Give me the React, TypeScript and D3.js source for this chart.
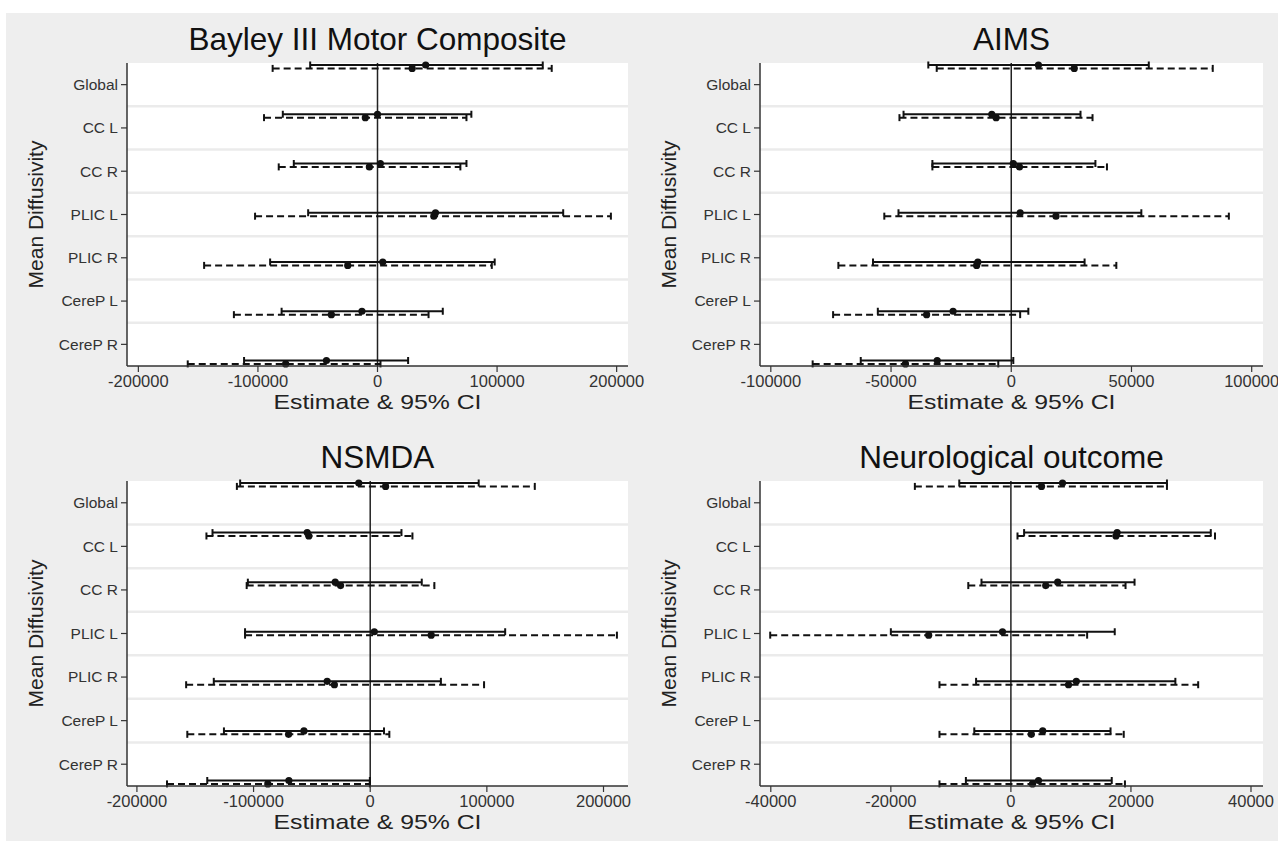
import * as d3 from "d3";

const regions = ["Global", "CC L", "CC R", "PLIC L", "PLIC R", "CereP L", "CereP R"];

// rows: [estimate, lower 95% CI, upper 95% CI], one per region
const bayleySolid = [
  [40300, -56300, 138200],
  [0, -79200, 78500],
  [2400, -70000, 74400],
  [48500, -58000, 155300],
  [4400, -89800, 98000],
  [-13000, -80200, 54600],
  [-42700, -111600, 25600],
];
const bayleyDashed = [
  [29000, -87700, 145700],
  [-10200, -94900, 74400],
  [-6800, -82600, 69300],
  [47100, -102400, 195200],
  [-24900, -145000, 95600],
  [-38600, -120100, 42700],
  [-76800, -158700, 2500],
];

const aimsSolid = [
  [11300, -34500, 57200],
  [-8100, -44800, 28800],
  [850, -32800, 35000],
  [3700, -46900, 54100],
  [-13900, -57500, 30500],
  [-24200, -55500, 7100],
  [-30800, -62600, 850],
];
const aimsDashed = [
  [26200, -31000, 83800],
  [-6300, -46500, 33800],
  [3400, -32800, 39800],
  [18600, -52800, 90500],
  [-14400, -71900, 43700],
  [-35200, -74100, 3700],
  [-44000, -82600, -5400],
];

const nsmdaSolid = [
  [-9800, -111500, 93000],
  [-54000, -135200, 26800],
  [-30000, -104900, 44200],
  [3500, -107300, 115700],
  [-36900, -134100, 60600],
  [-56800, -125400, 11800],
  [-69700, -139700, -300],
];
const nsmdaDashed = [
  [13200, -114300, 141100],
  [-52600, -140400, 36200],
  [-25400, -105900, 55000],
  [52300, -107300, 211500],
  [-30700, -157800, 97600],
  [-70000, -156800, 16400],
  [-87800, -174200, -300],
];

const neuroSolid = [
  [8600, -8600, 26000],
  [17700, 2200, 33300],
  [7800, -4900, 20600],
  [-1400, -20000, 17300],
  [10900, -5800, 27400],
  [5300, -6100, 16600],
  [4600, -7500, 16800],
];
const neuroDashed = [
  [5100, -16000, 26000],
  [17500, 1100, 34000],
  [5800, -7100, 19100],
  [-13700, -40100, 12700],
  [9600, -11900, 31200],
  [3400, -11900, 18800],
  [3600, -11900, 19000],
];

const titles = ["Bayley III Motor Composite", "AIMS", "NSMDA", "Neurological outcome"];
const xDomains = [
  [-209500, 209500],
  [-104500, 104700],
  [-208500, 221000],
  [-41800, 42000],
];
const xTickValues = [
  [-200000, -100000, 0, 100000, 200000],
  [-100000, -50000, 0, 50000, 100000],
  [-200000, -100000, 0, 100000, 200000],
  [-40000, -20000, 0, 20000, 40000],
];

const W = 1278;
const H = 841;
const FONT = "'Liberation Sans', Arial, sans-serif";

function Bars({ rows, x, y, dy, dashed }) {
  return (
    <g>
      {rows.map((r, i) => {
        const yy = y(regions[i]) + dy;
        return (
          <g key={i}>
            <line
              x1={x(r[1])}
              x2={x(r[2])}
              y1={yy}
              y2={yy}
              stroke="#111"
              strokeWidth={2}
              strokeDasharray={dashed ? "7,4" : null}
            />
            <line x1={x(r[1])} x2={x(r[1])} y1={yy - 3.5} y2={yy + 3.5} stroke="#111" strokeWidth={2} />
            <line x1={x(r[2])} x2={x(r[2])} y1={yy - 3.5} y2={yy + 3.5} stroke="#111" strokeWidth={2} />
            <circle cx={x(r[0])} cy={yy} r={3.6} fill="#111" />
          </g>
        );
      })}
    </g>
  );
}

function Panel({ title, solid, dashed, domain, ticks, left, top, width, height }) {
  const right = left + width;
  const bottom = top + height;
  const x = d3.scaleLinear().domain(domain).range([left, right]);
  const band = d3.scaleBand().domain(regions).range([top, bottom]);
  const barY = d3.scalePoint().domain(regions).range([top + 2, bottom - 5.5]);
  const cx = (left + right) / 2;

  return (
    <g>
      <rect x={left} y={top} width={width} height={height} fill="#fff" />
      {regions.slice(1).map((r) => (
        <line key={r} x1={left} x2={right} y1={band(r)} y2={band(r)} stroke="#ebebeb" strokeWidth={2.5} />
      ))}
      <line x1={x(0)} x2={x(0)} y1={top} y2={bottom} stroke="#222" strokeWidth={1.5} />
      <Bars rows={dashed} x={x} y={barY} dy={3.4} dashed />
      <Bars rows={solid} x={x} y={barY} dy={0} dashed={false} />

      {/* y axis */}
      <line x1={left} x2={left} y1={top} y2={bottom} stroke="#333" strokeWidth={1.5} />
      {regions.map((r) => {
        const yy = band(r) + band.bandwidth() / 2;
        return (
          <g key={r}>
            <line x1={left - 6} x2={left} y1={yy} y2={yy} stroke="#333" strokeWidth={1.2} />
            <text x={left - 9} y={yy} dy="0.35em" textAnchor="end" fontSize={15.5} fill="#333">
              {r}
            </text>
          </g>
        );
      })}

      {/* x axis */}
      <line x1={left} x2={right} y1={bottom} y2={bottom} stroke="#333" strokeWidth={1.5} />
      {ticks.map((t) => (
        <g key={t}>
          <line x1={x(t)} x2={x(t)} y1={bottom} y2={bottom + 6} stroke="#333" strokeWidth={1.2} />
          <text x={x(t)} y={bottom + 21} textAnchor="middle" fontSize={16.5} fill="#333">
            {t}
          </text>
        </g>
      ))}

      <text
        x={cx - 104}
        y={bottom + 43}
        fontSize={21}
        fill="#222"
        textLength={208}
        lengthAdjust="spacingAndGlyphs"
      >
        Estimate &amp; 95% CI
      </text>
      <text
        transform={`translate(${left - 91},${(top + bottom) / 2}) rotate(-90)`}
        textAnchor="middle"
        dy="0.35em"
        fontSize={21}
        fill="#222"
      >
        Mean Diffusivity
      </text>
      <text x={cx} y={top - 13} textAnchor="middle" fontSize={31.5} fill="#111">
        {title}
      </text>
    </g>
  );
}

export default function App() {
  const solids = [bayleySolid, aimsSolid, nsmdaSolid, neuroSolid];
  const dashes = [bayleyDashed, aimsDashed, nsmdaDashed, neuroDashed];
  const lefts = [127, 760, 127, 760];
  const tops = [63, 63, 481, 481];
  return (
    <svg
      width={W}
      height={H}
      style={{ position: "absolute", left: 0, top: 0, fontFamily: FONT }}
    >
      <rect x={0} y={0} width={W} height={H} fill="#fff" />
      <rect x={6} y={13} width={W - 6} height={H - 13} fill="#eeeeee" />
      {titles.map((t, i) => (
        <Panel
          key={t}
          title={t}
          solid={solids[i]}
          dashed={dashes[i]}
          domain={xDomains[i]}
          ticks={xTickValues[i]}
          left={lefts[i]}
          top={tops[i]}
          width={i % 2 === 0 ? 501 : 503}
          height={i < 2 ? 303 : 305}
        />
      ))}
    </svg>
  );
}
